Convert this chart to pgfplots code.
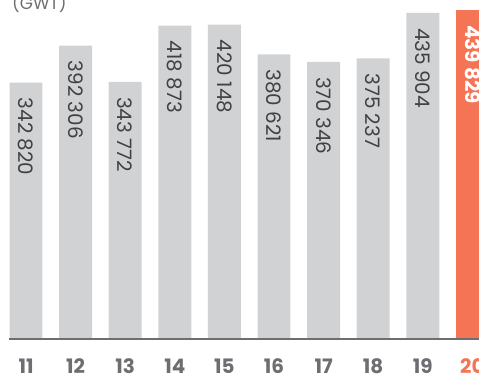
\documentclass[border=0pt]{standalone}
\usepackage{pgfplots}
\pgfplotsset{compat=1.18}
\usepackage{fontspec}
\setmainfont{Poppins}
\definecolor{bargray}{HTML}{D1D2D4}
\definecolor{barorange}{HTML}{F47455}
\definecolor{labgray}{HTML}{414042}
\definecolor{tickgray}{HTML}{6D6E71}
\begin{document}
\begin{tikzpicture}
\begin{axis}[
  scale only axis, width=479bp, height=376bp,
  xmin=-0.5242, xmax=9.1331,
  ymin=-49465, ymax=453210,
  ybar, bar width=0.665, bar shift=0pt,
  axis line style={draw=none}, major tick length=0pt,
  ytick=\empty,
  xtick={0,...,9},
  xticklabels={\textbf{11},\textbf{12},\textbf{13},\textbf{14},\textbf{15},\textbf{16},\textbf{17},\textbf{18},\textbf{19},\textcolor{barorange}{\textbf{20}}},
  xticklabel style={font=\fontsize{20}{20}\selectfont, text=tickgray, anchor=base, yshift=2.5bp, inner sep=0pt},
  clip=true,
  point meta=explicit symbolic,
  nodes near coords,
  nodes near coords style={font=\fontsize{20}{20}\selectfont, text=labgray, rotate=-90, anchor=west, inner sep=0pt, xshift=15bp},
]
\addplot[fill=bargray, draw=none] coordinates {
  (0,342820) [342 820]
  (1,392306) [392 306]
  (2,343772) [343 772]
  (3,418873) [418 873]
  (4,420148) [420 148]
  (5,380621) [380 621]
  (6,370346) [370 346]
  (7,375237) [375 237]
  (8,435904) [435 904]
};
\addplot[fill=barorange, draw=none, nodes near coords style={text=white, font=\fontsize{20}{20}\selectfont\bfseries}] coordinates {
  (9,439829) [439 829]
};
\draw[tickgray, line width=1.2bp] (axis cs:-0.34,0) -- (axis cs:9.2,0);
\node[anchor=base west, inner sep=0pt, text=tickgray, font=\fontsize{17}{17}\selectfont] at (axis cs:-0.282,439841) {(GWT)};
\end{axis}
\pgfresetboundingbox
\path[use as bounding box] (current axis.south west) rectangle (current axis.north east);
\end{tikzpicture}
\end{document}
